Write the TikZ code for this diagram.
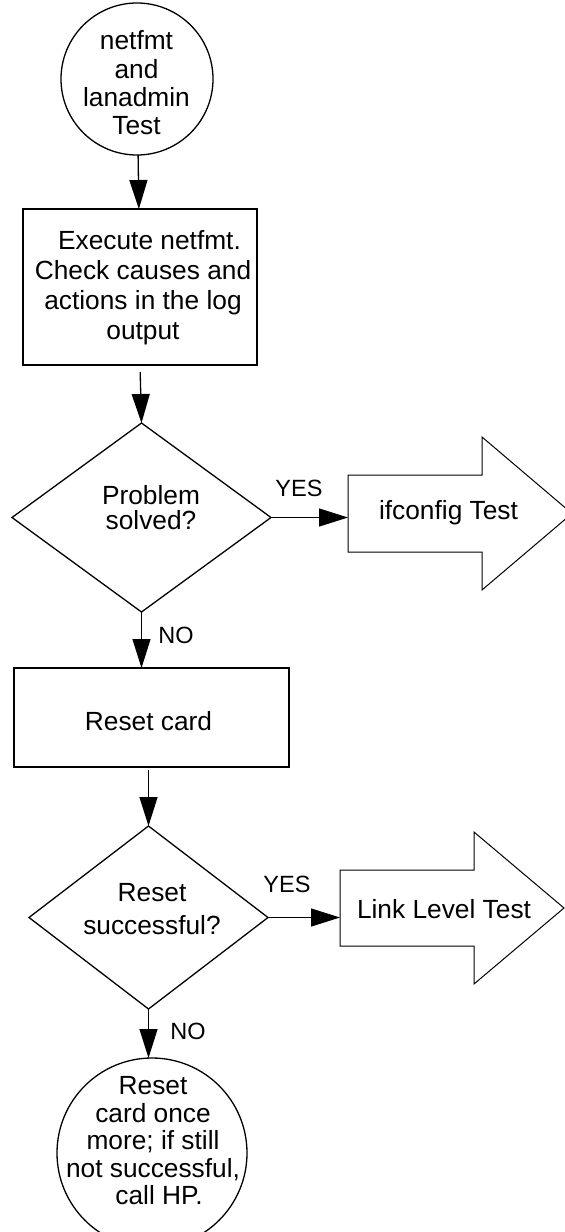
\documentclass[tikz,border=0pt]{standalone}
\usepackage{fontspec}
\setmainfont{Liberation Sans}
\usetikzlibrary{arrows.meta,shapes.geometric,calc}
\tikzset{
  shp/.style={draw, line width=1.3pt, inner sep=0pt, outer sep=0pt},
  boxn/.style={shp, rectangle},
  circn/.style={shp, circle},
  decn/.style={shp, diamond},
  txt/.style={inner sep=0pt, outer sep=0pt, align=center},
  lbl/.style={inner sep=0pt, font=\fontsize{23.5}{28}\selectfont},
  conn/.style={line width=1.3pt, -{Triangle[length=29pt,width=18pt]}},
  bigarrow/.style={draw, line width=1pt, line join=miter},
  shaft/.style={inner sep=0pt, outer sep=0pt, minimum width=134pt},
}
\begin{document}
\begin{tikzpicture}[x=1pt, y=-1pt]
\useasboundingbox (0,0) rectangle (565,1232);
\fill[white] (0,0) rectangle (565,1232);

% shapes
\node[circn, minimum size=152pt] (c1) at (137,79) {};
\node[boxn, minimum width=234pt, minimum height=156pt] (b1) at (140,287) {};
\node[decn, minimum width=259pt, minimum height=189pt] (d1) at (141.5,517.5) {};
\node[boxn, minimum width=275pt, minimum height=99pt] (b2) at (151.5,717.5) {};
\node[decn, minimum width=239pt, minimum height=183pt] (d2) at (148.5,917.5) {};
\node[circn, minimum size=190pt] (c2) at (152,1153) {};
\node[shaft, minimum height=77pt] (ifc) at (415,513.5) {};
\node[shaft, minimum height=76pt] (llt) at (407,908) {};

% big arrows
\draw[bigarrow] (ifc.north west) -- (ifc.north east) -- ([yshift=38pt]ifc.north east)
  -- ([xshift=90pt]ifc.east) -- ([yshift=-38pt]ifc.south east) -- (ifc.south east)
  -- (ifc.south west) -- cycle;
\draw[bigarrow] (llt.north west) -- (llt.north east) -- ([yshift=38pt]llt.north east)
  -- ([xshift=90pt]llt.east) -- ([yshift=-38pt]llt.south east) -- (llt.south east)
  -- (llt.south west) -- cycle;

% texts
\node[txt, font=\fontsize{26.3}{28.3}\selectfont] (c1t) at (136.5,82.9) {netfmt\\and\\lanadmin\\Test};
\node[txt, font=\fontsize{26.3}{30}\selectfont] (b1t) at (143,288.2) {\hspace*{13pt}Execute netfmt.\\Check causes and\\actions in the log\\output};
\node[txt, font=\fontsize{26.3}{25}\selectfont] (d1t) at (151,508) {Problem\\solved?};
\node[txt, font=\fontsize{26.3}{30}\selectfont] (b2t) at (148.5,721.4) {Reset card};
\node[txt, font=\fontsize{26.3}{33}\selectfont] (d2t) at (152,909) {Reset\\successful?};
\node[txt, font=\fontsize{26.3}{27.5}\selectfont] (c2t) at (153,1140.6) {Reset\\card once\hspace*{14pt}\\more; if still\\not successful,\\\hspace*{12pt}call HP.};
\node[txt, font=\fontsize{26.3}{30}\selectfont] (ifct) at (448.5,513) {ifconfig Test};
\node[txt, font=\fontsize{26.3}{30}\selectfont] (lltt) at (444,909.4) {Link Level Test};

% labels
\node[lbl] (yes1) at (299,488) {YES};
\node[lbl] (no1) at (176,635) {NO};
\node[lbl] (yes2) at (287,884) {YES};
\node[lbl] (no2) at (188,1031) {NO};

% connectors
\draw[conn] (c1) -- (b1);
\draw[conn, shorten <=7pt] (b1.south) -- (d1.north);
\draw[conn] (d1.east) -- (d1.east -| ifc.west);
\draw[conn] (d1.south) -- (d1.south |- b2.north);
\draw[conn, shorten <=3pt] (d2.north |- b2.south) -- (d2.north);
\draw[conn] (d2.east) -- (d2.east -| llt.west);
\draw[conn] (d2.south) -- (d2.south |- c2.north);
\end{tikzpicture}
\end{document}
